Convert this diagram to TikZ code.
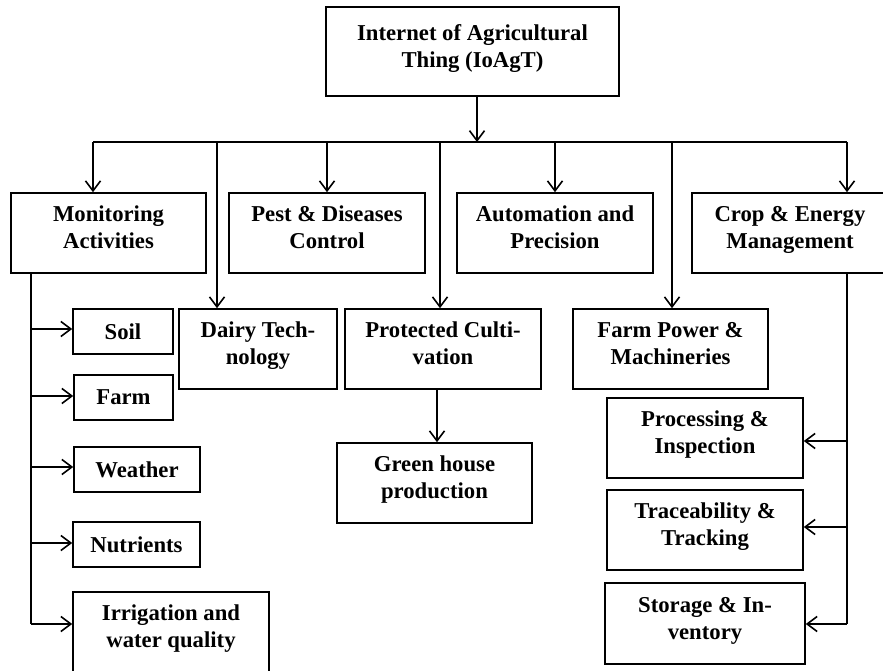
\documentclass[tikz,border=0pt]{standalone}
\usepackage{fontspec}
\setmainfont{Liberation Serif}
\usetikzlibrary{arrows.meta,calc}
\begin{document}
\begin{tikzpicture}[x=1pt,y=-1pt,
  box/.style={draw, line width=1.6pt, inner sep=0pt, align=center,
    font=\bfseries\fontsize{22.7}{27}\selectfont},
  two/.style={box, minimum height=80pt,
    execute at begin node={\rule{0pt}{16pt}},
    execute at end node={\rule[-11pt]{0pt}{11pt}}},
  conn/.style={line width=1.6pt},
  arr/.style={line width=1.6pt, -{Straight Barb[length=10pt,width=15pt,line width=1.6pt]}}]
\useasboundingbox (0,0) rectangle (883,670);
% nodes
\node[two, minimum width=293pt, minimum height=89pt] (top) at (472.5,51.5) {Internet of Agricultural\\Thing (IoAgT)};
\node[two, minimum width=195pt] (mon) at (108.5,233) {Monitoring\\Activities};
\node[two, minimum width=196pt] (pest) at (327,233) {Pest \& Diseases\\Control};
\node[two, minimum width=196pt] (auto) at (555,233) {Automation and\\Precision};
\node[two, minimum width=196pt] (crop) at (790,233) {Crop \& Energy\\Management};
\node[two, minimum width=158pt] (dairy) at (258,349) {Dairy Tech-\\nology};
\node[two, minimum width=196pt] (prot) at (443,349) {Protected Culti-\\vation};
\node[two, minimum width=195pt] (fpow) at (670.5,349) {Farm Power \&\\Machineries};
\node[two, minimum width=195pt] (green) at (434.5,483) {Green house\\production};
\node[box, minimum width=100pt, minimum height=45pt] (soil) at (123,331.5) {Soil};
\node[box, minimum width=99pt, minimum height=45pt] (farm) at (123.5,397.5) {Farm};
\node[box, minimum width=126pt, minimum height=45pt] (weather) at (137,469.5) {Weather};
\node[box, minimum width=127pt, minimum height=45pt] (nutr) at (136.5,544.5) {Nutrients};
\node[two, minimum width=196pt] (irr) at (171,632) {Irrigation and\\water quality};
\node[two, minimum width=196pt] (proc) at (705,438) {Processing \&\\Inspection};
\node[two, minimum width=196pt] (trace) at (705,530) {Traceability \&\\Tracking};
\node[two, minimum width=200pt, minimum height=81pt] (stor) at (705,623.5) {Storage \& In-\\ventory};
% bus coordinates
\coordinate (bT) at (477,142);
\coordinate (b1) at (93,142);
\coordinate (b2) at (217,142);
\coordinate (b3) at (327,142);
\coordinate (b4) at (440,142);
\coordinate (b5) at (555,142);
\coordinate (b6) at (672,142);
\coordinate (b7) at (847,142);
\draw[arr] (top.south -| bT) -- (bT);
\draw[conn] (b1) -- (b7);
\draw[arr] (b1) -- (b1 |- mon.north);
\draw[arr] (b2) -- (b2 |- dairy.north);
\draw[arr] (b3) -- (b3 |- pest.north);
\draw[arr] (b4) -- (b4 |- prot.north);
\draw[arr] (b5) -- (b5 |- auto.north);
\draw[arr] (b6) -- (b6 |- fpow.north);
\draw[arr] (b7) -- (b7 |- crop.north);
% protected -> green house
\coordinate (pg) at (437,0);
\draw[arr] (prot.south -| pg) -- (green.north -| pg);
% monitoring branch
\coordinate (mL) at (31,624);
\draw[conn] (mon.south -| mL) -- (mL);
\coordinate (s1) at (31,329);
\coordinate (s2) at (31,396);
\coordinate (s3) at (31,467);
\coordinate (s4) at (31,543);
\draw[arr] (s1) -- (s1 -| soil.west);
\draw[arr] (s2) -- (s2 -| farm.west);
\draw[arr] (s3) -- (s3 -| weather.west);
\draw[arr] (s4) -- (s4 -| nutr.west);
\draw[arr] (mL) -- (mL -| irr.west);
% crop branch
\coordinate (cL) at (847,624);
\draw[conn] (crop.south -| cL) -- (cL);
\coordinate (c1) at (847,441);
\coordinate (c2) at (847,527);
\draw[arr] (c1) -- (c1 -| proc.east);
\draw[arr] (c2) -- (c2 -| trace.east);
\draw[arr] (cL) -- (cL -| stor.east);
\end{tikzpicture}
\end{document}
